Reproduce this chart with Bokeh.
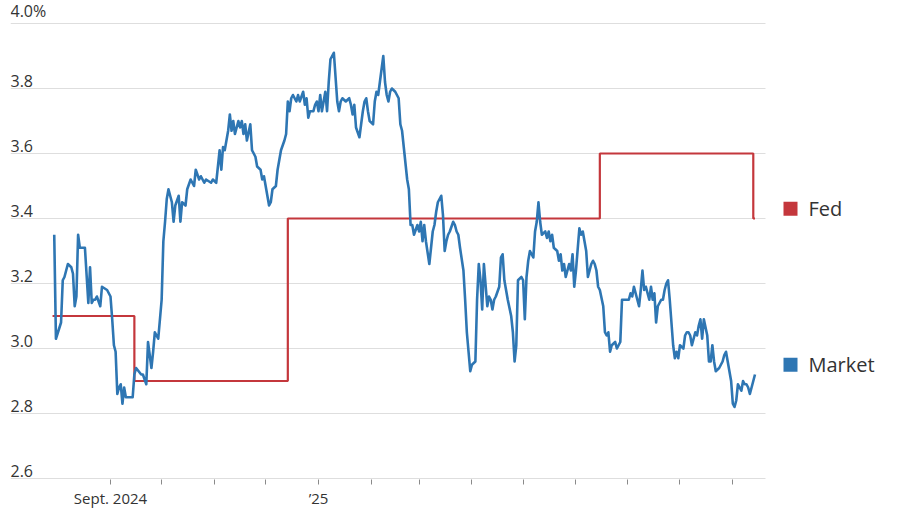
import pandas as pd
from bokeh.plotting import figure
from bokeh.models import FixedTicker, Range1d
from bokeh.core.properties import value
from bokeh.embed import file_html
from bokeh.resources import INLINE

# ---------------- data ----------------
market_dates = [
    "2024-07-30", "2024-07-31", "2024-08-03", "2024-08-04", "2024-08-05", "2024-08-07", "2024-08-09",
    "2024-08-10", "2024-08-11", "2024-08-12", "2024-08-13", "2024-08-14", "2024-08-17", "2024-08-19",
    "2024-08-20", "2024-08-21", "2024-08-22", "2024-08-23", "2024-08-24", "2024-08-26", "2024-08-27",
    "2024-08-30", "2024-09-01", "2024-09-02", "2024-09-03", "2024-09-04", "2024-09-05", "2024-09-06",
    "2024-09-07", "2024-09-08", "2024-09-09", "2024-09-10", "2024-09-11", "2024-09-14", "2024-09-15",
    "2024-09-16", "2024-09-19", "2024-09-20", "2024-09-22", "2024-09-23", "2024-09-25", "2024-09-26",
    "2024-09-27", "2024-09-29", "2024-09-30", "2024-10-01", "2024-10-02", "2024-10-03", "2024-10-04",
    "2024-10-05", "2024-10-07", "2024-10-08", "2024-10-09", "2024-10-11", "2024-10-12", "2024-10-13",
    "2024-10-15", "2024-10-16", "2024-10-18", "2024-10-20", "2024-10-21", "2024-10-23", "2024-10-24",
    "2024-10-26", "2024-10-27", "2024-10-30", "2024-10-31", "2024-11-02", "2024-11-03", "2024-11-04",
    "2024-11-05", "2024-11-06", "2024-11-07", "2024-11-09", "2024-11-10", "2024-11-11", "2024-11-12",
    "2024-11-13", "2024-11-15", "2024-11-16", "2024-11-17", "2024-11-18", "2024-11-19", "2024-11-20",
    "2024-11-22", "2024-11-23", "2024-11-25", "2024-11-26", "2024-11-28", "2024-11-29", "2024-11-30",
    "2024-12-02", "2024-12-03", "2024-12-04", "2024-12-05", "2024-12-07", "2024-12-08", "2024-12-09",
    "2024-12-10", "2024-12-12", "2024-12-13", "2024-12-14", "2024-12-15", "2024-12-16", "2024-12-17",
    "2024-12-19", "2024-12-20", "2024-12-21", "2024-12-23", "2024-12-24", "2024-12-25", "2024-12-26",
    "2024-12-27", "2024-12-29", "2024-12-30", "2024-12-31", "2025-01-01", "2025-01-02", "2025-01-03",
    "2025-01-05", "2025-01-06", "2025-01-07", "2025-01-08", "2025-01-09", "2025-01-10", "2025-01-12",
    "2025-01-13", "2025-01-14", "2025-01-15", "2025-01-17", "2025-01-19", "2025-01-20", "2025-01-21",
    "2025-01-22", "2025-01-23", "2025-01-25", "2025-01-26", "2025-01-27", "2025-01-28", "2025-01-29",
    "2025-01-30", "2025-01-31", "2025-02-02", "2025-02-03", "2025-02-04", "2025-02-05", "2025-02-06",
    "2025-02-08", "2025-02-09", "2025-02-10", "2025-02-11", "2025-02-12", "2025-02-13", "2025-02-15",
    "2025-02-16", "2025-02-17", "2025-02-18", "2025-02-19", "2025-02-20", "2025-02-22", "2025-02-23",
    "2025-02-24", "2025-02-25", "2025-02-26", "2025-02-28", "2025-03-01", "2025-03-02", "2025-03-03",
    "2025-03-04", "2025-03-05", "2025-03-07", "2025-03-08", "2025-03-09", "2025-03-10", "2025-03-11",
    "2025-03-12", "2025-03-14", "2025-03-15", "2025-03-16", "2025-03-17", "2025-03-18", "2025-03-19",
    "2025-03-21", "2025-03-22", "2025-03-23", "2025-03-24", "2025-03-25", "2025-03-27", "2025-03-28",
    "2025-03-29", "2025-03-30", "2025-03-31", "2025-04-01", "2025-04-03", "2025-04-04", "2025-04-05",
    "2025-04-06", "2025-04-07", "2025-04-08", "2025-04-10", "2025-04-11", "2025-04-12", "2025-04-13",
    "2025-04-14", "2025-04-15", "2025-04-17", "2025-04-18", "2025-04-19", "2025-04-20", "2025-04-21",
    "2025-04-22", "2025-04-24", "2025-04-25", "2025-04-26", "2025-04-27", "2025-04-28", "2025-04-30",
    "2025-05-01", "2025-05-02", "2025-05-03", "2025-05-04", "2025-05-05", "2025-05-07", "2025-05-08",
    "2025-05-09", "2025-05-10", "2025-05-11", "2025-05-12", "2025-05-14", "2025-05-15", "2025-05-16",
    "2025-05-17", "2025-05-18", "2025-05-19", "2025-05-21", "2025-05-22", "2025-05-23", "2025-05-24",
    "2025-05-25", "2025-05-26", "2025-05-28", "2025-05-29", "2025-05-30", "2025-05-31", "2025-06-01",
    "2025-06-03", "2025-06-04", "2025-06-05", "2025-06-06", "2025-06-07", "2025-06-08", "2025-06-10",
    "2025-06-11", "2025-06-12", "2025-06-13", "2025-06-14", "2025-06-15", "2025-06-17", "2025-06-18",
    "2025-06-19", "2025-06-20", "2025-06-21", "2025-06-22", "2025-06-24", "2025-06-25", "2025-06-26",
    "2025-06-27", "2025-06-28", "2025-06-30", "2025-07-01", "2025-07-02", "2025-07-03", "2025-07-04",
    "2025-07-05", "2025-07-07", "2025-07-08", "2025-07-09", "2025-07-10", "2025-07-11", "2025-07-12",
    "2025-07-14", "2025-07-15", "2025-07-16", "2025-07-17", "2025-07-18", "2025-07-19", "2025-07-21",
    "2025-07-22", "2025-07-23", "2025-07-24", "2025-07-25", "2025-07-26", "2025-07-28", "2025-07-29",
    "2025-07-30", "2025-07-31", "2025-08-01", "2025-08-03", "2025-08-04", "2025-08-05", "2025-08-06",
    "2025-08-07", "2025-08-08", "2025-08-10", "2025-08-11", "2025-08-12", "2025-08-13", "2025-08-14",
    "2025-08-15", "2025-08-17", "2025-08-18", "2025-08-19", "2025-08-20", "2025-08-21", "2025-08-22",
    "2025-08-24", "2025-08-25", "2025-08-26", "2025-08-27", "2025-08-28", "2025-08-30", "2025-08-31",
    "2025-09-01", "2025-09-02", "2025-09-03", "2025-09-04", "2025-09-06", "2025-09-07", "2025-09-08",
    "2025-09-09", "2025-09-10", "2025-09-11", "2025-09-13", "2025-09-14",
]
market_values = [
    3.35, 3.03, 3.08, 3.21, 3.22, 3.26, 3.25,
    3.23, 3.13, 3.16, 3.35, 3.31, 3.31, 3.14,
    3.25, 3.14, 3.15, 3.15, 3.16, 3.13, 3.19,
    3.18, 3.16, 3.09, 3.01, 2.99, 2.86, 2.88,
    2.89, 2.83, 2.88, 2.85, 2.85, 2.85, 2.92,
    2.94, 2.92, 2.92, 2.89, 3.02, 2.94, 2.99,
    3.05, 3.03, 3.09, 3.15, 3.33, 3.39, 3.46,
    3.49, 3.45, 3.39, 3.44, 3.47, 3.39, 3.45,
    3.44, 3.49, 3.52, 3.50, 3.55, 3.52, 3.53,
    3.51, 3.52, 3.51, 3.52, 3.51, 3.56, 3.61,
    3.55, 3.62, 3.61, 3.67, 3.72, 3.67, 3.70,
    3.66, 3.70, 3.68, 3.70, 3.66, 3.69, 3.64,
    3.69, 3.61, 3.59, 3.56, 3.55, 3.52, 3.53,
    3.47, 3.44, 3.45, 3.49, 3.50, 3.55, 3.58,
    3.61, 3.64, 3.66, 3.76, 3.73, 3.77, 3.78,
    3.76, 3.78, 3.76, 3.79, 3.75, 3.77, 3.71,
    3.73, 3.73, 3.75, 3.76, 3.73, 3.78, 3.73,
    3.79, 3.73, 3.82, 3.89, 3.90, 3.91, 3.76,
    3.73, 3.76, 3.77, 3.76, 3.77, 3.75, 3.72,
    3.75, 3.68, 3.65, 3.69, 3.73, 3.76, 3.77,
    3.73, 3.70, 3.69, 3.76, 3.79, 3.78, 3.82,
    3.90, 3.82, 3.78, 3.76, 3.79, 3.80, 3.79,
    3.78, 3.77, 3.69, 3.67, 3.62, 3.52, 3.49,
    3.38, 3.38, 3.35, 3.38, 3.36, 3.39, 3.33,
    3.38, 3.33, 3.26, 3.31, 3.36, 3.38, 3.42,
    3.45, 3.47, 3.41, 3.30, 3.33, 3.35, 3.36,
    3.39, 3.38, 3.36, 3.35, 3.31, 3.24, 3.15,
    3.05, 2.99, 2.93, 2.95, 2.96, 3.15, 3.26,
    3.21, 3.12, 3.26, 3.13, 3.16, 3.15, 3.12,
    3.15, 3.16, 3.19, 3.28, 3.29, 3.21, 3.18,
    3.15, 3.10, 3.05, 2.96, 3.01, 3.21, 3.22,
    3.21, 3.09, 3.22, 3.27, 3.30, 3.28, 3.36,
    3.39, 3.45, 3.39, 3.35, 3.36, 3.34, 3.36,
    3.33, 3.35, 3.31, 3.30, 3.27, 3.29, 3.24,
    3.26, 3.22, 3.26, 3.24, 3.29, 3.19, 3.24,
    3.37, 3.35, 3.36, 3.33, 3.30, 3.22, 3.26,
    3.27, 3.26, 3.24, 3.19, 3.18, 3.13, 3.05,
    3.04, 3.05, 2.99, 3.01, 3.02, 3.00, 3.01,
    3.02, 3.15, 3.15, 3.15, 3.15, 3.17, 3.16,
    3.19, 3.15, 3.13, 3.18, 3.24, 3.18, 3.19,
    3.15, 3.19, 3.15, 3.17, 3.08, 3.13, 3.15,
    3.15, 3.18, 3.20, 3.21, 3.15, 3.01, 2.97,
    2.99, 2.97, 3.01, 3.00, 3.04, 3.05, 3.05,
    3.04, 3.01, 3.05, 3.04, 3.07, 3.09, 3.03,
    3.09, 3.04, 2.96, 2.96, 3.01, 2.96, 2.93,
    2.94, 2.95, 2.96, 2.98, 2.99, 2.93, 2.90,
    2.83, 2.82, 2.84, 2.89, 2.87, 2.90, 2.89,
    2.89, 2.88, 2.86, 2.90, 2.92,
]
fed_dates = ["2024-07-29", "2024-09-15", "2024-12-14", "2025-06-15", "2025-09-13", "2025-09-14"]
fed_values = [3.1, 2.9, 3.4, 3.6, 3.4, 3.4]

y_ticks = [2.6, 2.8, 3.0, 3.2, 3.4, 3.6, 3.8, 4.0]
y_tick_labels = ["2.6", "2.8", "3.0", "3.2", "3.4", "3.6", "3.8", "4.0%"]
x_tick_dates = ["2024-09-01", "2024-10-01", "2024-11-01", "2024-12-01", "2025-01-01",
                "2025-02-01", "2025-03-01", "2025-04-01", "2025-05-01", "2025-06-01",
                "2025-07-01", "2025-08-01", "2025-09-01"]
x_tick_labels = {"2024-09-01": "Sept. 2024", "2025-01-01": "\u201925"}

series_names = ["Fed", "Market"]
legend_y = [3.43, 2.95]

# ---------------- colours / fonts ----------------
BLUE = "#2e76b3"
RED = "#c4373c"
GRID = "#dedede"
TEXT = "#333333"
FONT = "Open Sans"

# ---------------- layout helpers (page pixels -> dates) ----------------
DAY_PX = 1.705
REF_DATE = pd.Timestamp("2024-09-01")
REF_PX = 110.0
PX_PER_UNIT = 325.0


def at_px(px):
    return REF_DATE + pd.Timedelta(days=(px - REF_PX) / DAY_PX)


LEFT, RIGHT = 10, 890
x_start = at_px(LEFT)
x_end = at_px(RIGHT)
grid_end = at_px(765)

FRAME_H = 479
y_top = 4.0 + 23 / PX_PER_UNIT
y_bottom = y_top - FRAME_H / PX_PER_UNIT

p = figure(
    frame_width=RIGHT - LEFT, frame_height=FRAME_H,
    x_axis_type="datetime", y_axis_location=None,
    output_backend="svg", toolbar_location=None,
    min_border_left=LEFT, min_border_right=900 - RIGHT, min_border_top=0, min_border_bottom=0,
    x_range=Range1d(x_start, x_end), y_range=Range1d(y_bottom, y_top),
    background_fill_color="white", border_fill_color="white",
)
p.outline_line_color = None
p.xgrid.visible = False
p.ygrid.visible = False

# grid lines
p.segment(x0=[x_start] * len(y_ticks), y0=y_ticks, x1=[grid_end] * len(y_ticks), y1=y_ticks,
          line_color=GRID, line_width=1)

# y labels sitting above grid lines
p.text(x=[x_start] * len(y_ticks), y=y_ticks, text=y_tick_labels,
       text_align="left", text_baseline="bottom", y_offset=-2,
       text_font=value(FONT), text_font_size="16px", text_color=TEXT)

# series
p.step(x=pd.to_datetime(fed_dates), y=fed_values, mode="after",
       line_color=RED, line_width=2.2)
p.line(x=pd.to_datetime(market_dates), y=market_values,
       line_color=BLUE, line_width=2.6, line_join="round")

# legend squares + names at the right
p.scatter(x=[at_px(790)] * 2, y=legend_y, marker="square", size=14,
          fill_color=[RED, BLUE], line_color=None)
p.text(x=[at_px(808)] * 2, y=legend_y, text=series_names,
       text_align="left", text_baseline="middle",
       text_font=value(FONT), text_font_size="20px", text_color=TEXT)

# x axis
tick_ms = [float(pd.Timestamp(d).value // 10**6) for d in x_tick_dates]
ax = p.xaxis[0]
ax.ticker = FixedTicker(ticks=tick_ms)
ax.major_label_overrides = {ms: x_tick_labels.get(d, "") for ms, d in zip(tick_ms, x_tick_dates)}
ax.axis_line_color = None
ax.major_tick_line_color = "#8a8a8a"
ax.major_tick_out = 5
ax.major_tick_in = 0
ax.minor_tick_out = 0
ax.minor_tick_in = 0
ax.major_label_standoff = 3
ax.major_label_text_font = FONT
ax.major_label_text_font_size = "15px"
ax.major_label_text_color = TEXT

open("out.html", "w").write(file_html(p, INLINE))
